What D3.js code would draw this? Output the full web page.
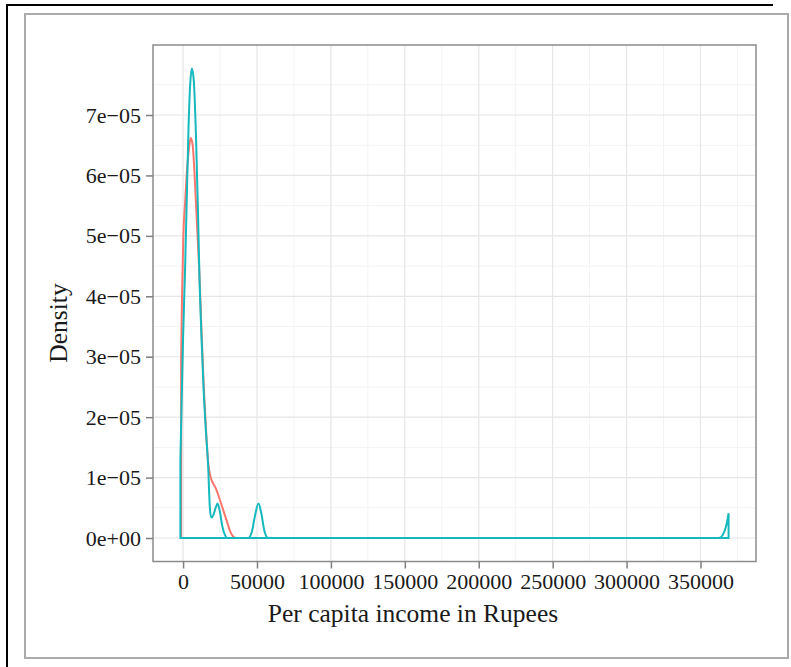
<!DOCTYPE html>
<html>
<head>
<meta charset="utf-8">
<script src="https://cdn.jsdelivr.net/npm/d3@7"></script>
<style>
  body { margin: 0; background: #fff; }
  svg text { font-family: "Liberation Serif", "DejaVu Serif", serif; fill: #1a1a1a; }
</style>
</head>
<body>
<div id="container"></div>
<script>
// income (Rupees) and density (in units of 1e-5)
const incomeRed = [-1300, -700, 200, 1500, 2700, 4000, 5200, 6500, 7800, 9000, 10000, 11000,
  12500, 14000, 15500, 17000, 18500, 20000, 22000, 24000, 26000, 28000, 30000, 32000, 34000, 35500];
const densityRed = [3.0, 4.0, 5.0, 5.6, 6.1, 6.45, 6.62, 6.5, 6.0, 5.4, 4.9, 4.4,
  3.4, 2.5, 1.8, 1.25, 1.02, 0.92, 0.83, 0.7, 0.55, 0.4, 0.25, 0.1, 0.02, 0];

const incomeCyan = [-1800, -1000, 0, 1300, 2500, 3700, 4800, 6000, 7300, 8800, 10000, 11000,
  12500, 14000, 15500, 17000, 18000, 19000, 20500, 22000, 23300, 24800, 26500, 28500, 30000,
  44000, 46500, 48500, 51000, 53000, 55000, 57500,
  362500, 365000, 367000, 368000, 369000];
const densityCyan = [1.3, 2.2, 3.3, 4.4, 5.6, 6.8, 7.5, 7.77, 7.55, 6.6, 5.5, 4.4,
  3.3, 2.4, 1.75, 1.17, 0.55, 0.34, 0.38, 0.5, 0.57, 0.45, 0.2, 0.04, 0,
  0, 0.1, 0.35, 0.57, 0.4, 0.12, 0,
  0, 0.05, 0.17, 0.27, 0.41];

const xTicks = [0, 50000, 100000, 150000, 200000, 250000, 300000, 350000];
const yTicks = [0, 1, 2, 3, 4, 5, 6, 7];
const yTickLabels = ["0e+00", "1e\u221205", "2e\u221205", "3e\u221205", "4e\u221205", "5e\u221205", "6e\u221205", "7e\u221205"];

const W = 791, H = 667;
const panel = { left: 153, right: 756, top: 45, bottom: 561.5 };

const svg = d3.select("#container").append("svg")
  .attr("width", W).attr("height", H);

// outer frames
svg.append("path").attr("d", "M7,667V5H773")
  .attr("fill", "none").attr("stroke", "#000").attr("stroke-width", 2);
svg.append("rect").attr("x", 25).attr("y", 14).attr("width", 763).attr("height", 644)
  .attr("fill", "none").attr("stroke", "#aaa").attr("stroke-width", 2);

// ggplot-style expansion of 5%
const xMin = -1800, xMax = 369000, yMax = 7.77;
const xPad = (xMax - xMin) * 0.05, yPad = yMax * 0.05;

const x = d3.scaleLinear().domain([xMin - xPad, xMax + xPad]).range([panel.left, panel.right]);
const y = d3.scaleLinear().domain([-yPad, yMax + yPad]).range([panel.bottom, panel.top]);

const g = svg.append("g");

// minor grid
const xMinor = xTicks.map(d => d + 25000).concat([-25000]).filter(d => d > x.domain()[0] && d < x.domain()[1]);
const yMinor = yTicks.map(d => d + 0.5).filter(d => d < y.domain()[1]);
g.selectAll(".xminor").data(xMinor).join("line")
  .attr("x1", d => x(d)).attr("x2", d => x(d)).attr("y1", panel.top).attr("y2", panel.bottom)
  .attr("stroke", "#f3f3f3").attr("stroke-width", 1);
g.selectAll(".yminor").data(yMinor).join("line")
  .attr("x1", panel.left).attr("x2", panel.right).attr("y1", d => y(d)).attr("y2", d => y(d))
  .attr("stroke", "#f3f3f3").attr("stroke-width", 1);

// major grid
g.selectAll(".xmajor").data(xTicks).join("line")
  .attr("x1", d => x(d)).attr("x2", d => x(d)).attr("y1", panel.top).attr("y2", panel.bottom)
  .attr("stroke", "#e6e6e6").attr("stroke-width", 1.2);
g.selectAll(".ymajor").data(yTicks).join("line")
  .attr("x1", panel.left).attr("x2", panel.right).attr("y1", d => y(d)).attr("y2", d => y(d))
  .attr("stroke", "#e6e6e6").attr("stroke-width", 1.2);

// density outlines: curve, then drop to the baseline and close
function densityPath(xs, ds) {
  const pts = xs.map((v, i) => [v, ds[i]]);
  const curve = d3.line().x(d => x(d[0])).y(d => y(d[1])).curve(d3.curveMonotoneX)(pts);
  const last = pts[pts.length - 1], first = pts[0];
  return curve + "L" + x(last[0]) + "," + y(0) + "L" + x(first[0]) + "," + y(0) + "Z";
}

g.append("path").attr("d", densityPath(incomeRed, densityRed))
  .attr("fill", "none").attr("stroke", "#F8766D").attr("stroke-width", 2);
g.append("path").attr("d", densityPath(incomeCyan, densityCyan))
  .attr("fill", "none").attr("stroke", "#14B8BD").attr("stroke-width", 2);

// panel border
svg.append("rect").attr("x", panel.left).attr("y", panel.top)
  .attr("width", panel.right - panel.left).attr("height", panel.bottom - panel.top)
  .attr("fill", "none").attr("stroke", "#8c8c8c").attr("stroke-width", 1.5);

// axes
const xAxis = svg.append("g").attr("transform", "translate(0," + panel.bottom + ")")
  .call(d3.axisBottom(x).tickValues(xTicks).tickFormat(d3.format("d")).tickSize(7).tickPadding(5));
const yAxis = svg.append("g").attr("transform", "translate(" + panel.left + ",0)")
  .call(d3.axisLeft(y).tickValues(yTicks).tickFormat((d, i) => yTickLabels[i]).tickSize(7).tickPadding(5));
[xAxis, yAxis].forEach(a => {
  a.select(".domain").remove();
  a.selectAll(".tick line").attr("stroke", "#7f7f7f").attr("stroke-width", 1.5);
  a.selectAll(".tick text").attr("font-size", 22).attr("fill", "#1a1a1a")
    .attr("font-family", "Liberation Serif");
});

// titles
svg.append("text").attr("x", 413).attr("y", 622)
  .attr("text-anchor", "middle").attr("font-size", 25.5).text("Per capita income in Rupees");
svg.append("text").attr("transform", "translate(67,323) rotate(-90)")
  .attr("text-anchor", "middle").attr("font-size", 25.5).text("Density");
</script>
</body>
</html>
